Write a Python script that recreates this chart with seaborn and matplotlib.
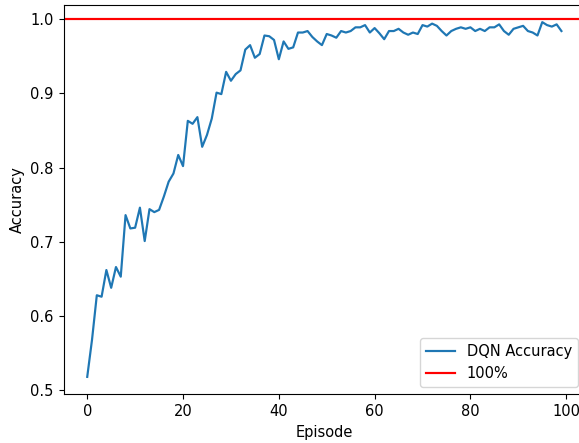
import numpy as np
import pandas as pd
import matplotlib
matplotlib.use("Agg")
import matplotlib.pyplot as plt
import seaborn as sns

# accuracy per episode
episodes = list(range(100))
accuracy = [
    0.518, 0.568, 0.628, 0.626, 0.662, 0.638, 0.666, 0.653, 0.736, 0.718,
    0.719, 0.746, 0.701, 0.744, 0.740, 0.743, 0.761, 0.781, 0.792, 0.817,
    0.802, 0.863, 0.859, 0.868, 0.828, 0.844, 0.866, 0.901, 0.899, 0.929,
    0.917, 0.926, 0.931, 0.959, 0.965, 0.948, 0.953, 0.978, 0.977, 0.972,
    0.946, 0.970, 0.960, 0.962, 0.982, 0.982, 0.984, 0.976, 0.970, 0.965,
    0.980, 0.978, 0.975, 0.984, 0.982, 0.984, 0.989, 0.989, 0.992, 0.982,
    0.988, 0.981, 0.973, 0.984, 0.984, 0.987, 0.982, 0.979, 0.982, 0.980,
    0.992, 0.990, 0.994, 0.991, 0.984, 0.978, 0.984, 0.987, 0.989, 0.987,
    0.989, 0.984, 0.987, 0.984, 0.989, 0.989, 0.993, 0.984, 0.979, 0.987,
    0.989, 0.991, 0.984, 0.982, 0.978, 0.996, 0.992, 0.990, 0.993, 0.984,
]
target = 1.0

df = pd.DataFrame({"Episode": episodes, "Accuracy": accuracy})

plt.rcParams["font.size"] = 10.5
plt.rcParams["lines.linewidth"] = 1.575

fig = plt.figure(figsize=(5.79, 4.43), dpi=100)
# axes runs a little past the right edge, like the cropped reference
ax = fig.add_axes([0.1097, 0.1099, 0.9009, 0.8795])

sns.lineplot(data=df, x="Episode", y="Accuracy", ax=ax, label="DQN Accuracy", color="#1f77b4")
ax.axhline(target, color="red", label="100%")

ax.set_xlim(-4.95, 103.95)
ax.set_ylim(0.4945, 1.0195)
ax.set_xlabel("Episode")
ax.set_ylabel("Accuracy")
ax.legend(loc="lower right")

fig.savefig("out.png", dpi=100)
